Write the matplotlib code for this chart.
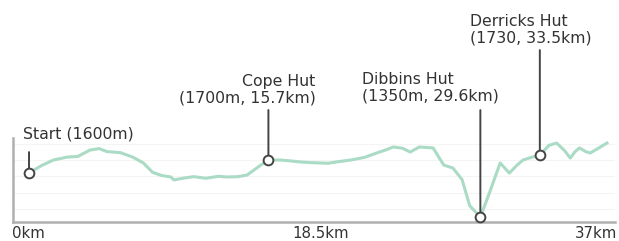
import matplotlib
matplotlib.use("Agg")
import matplotlib.pyplot as plt

# Elevation profile (km, m)
dist_km = [0.0, 0.8, 1.6, 2.5, 3.2, 4.0, 4.6, 5.1, 6.0, 6.8, 7.5, 8.1, 8.7, 9.3, 9.5,
           10.2, 10.8, 11.6, 12.4, 13.0, 13.7, 14.3, 15.2, 15.7, 16.5, 17.2, 17.8,
           18.5, 19.1, 19.6, 20.3, 21.1, 22.0, 22.8, 23.4, 23.9, 24.5, 25.0, 25.6,
           26.5, 27.2, 27.8, 28.4, 28.9, 29.6, 30.2, 30.9, 31.5, 32.0, 32.4, 33.0,
           33.5, 34.1, 34.6, 35.1, 35.5, 35.8, 36.1, 36.5, 36.8, 37.3, 37.9]
elev_m = [1620, 1665, 1700, 1718, 1722, 1761, 1770, 1752, 1745, 1718, 1682, 1625, 1605,
          1596, 1578, 1590, 1598, 1588, 1600, 1596, 1598, 1608, 1669, 1700, 1700, 1694,
          1688, 1684, 1682, 1680, 1690, 1700, 1716, 1743, 1762, 1780, 1772, 1749, 1780,
          1774, 1669, 1651, 1580, 1420, 1350, 1500, 1682, 1620, 1668, 1700, 1718,
          1730, 1790, 1804, 1760, 1712, 1750, 1774, 1752, 1743, 1770, 1804]

# Points of interest
poi_names = ["Start (1600m)", "Cope Hut\n(1700m, 15.7km)",
             "Dibbins Hut\n(1350m, 29.6km)", "Derricks Hut\n(1730, 33.5km)"]
poi_km = [0.0, 15.7, 29.6, 33.5]
poi_m = [1620, 1700, 1350, 1730]

tick_labels = ["0km", "18.5km", "37km"]

W, H = 619, 241
FS = 11.3
fig = plt.figure(figsize=(W / 100, H / 100), dpi=100)
ax = fig.add_axes([13 / W, 19 / H, (615 - 13) / W, (222 - 138) / H])
ax.set_xlim(-1.05, 38.43)
ax.set_ylim(1320, 1835)

for g in [1400, 1500, 1600, 1700, 1800]:
    ax.axhline(g, color="#f4f4f4", lw=0.8, zorder=0)

ax.plot(dist_km, elev_m, color="#aadbc5", lw=2.2, solid_joinstyle="round", zorder=2)

# annotation layout: (stem px, text dx px, text dy px, ha, multialign)
layout = [(21, -6, 32, "left", "left"),
          (50, 47, 55, "right", "right"),
          (107, -118, 114, "left", "left"),
          (105, -70, 110, "left", "left")]

for name, xk, ym, (stem, dx, dy, ha, ma) in zip(poi_names, poi_km, poi_m, layout):
    ax.annotate("", xy=(xk, ym), xytext=(0, stem), textcoords="offset pixels",
                arrowprops=dict(arrowstyle="-", color="#444444", lw=1.4,
                                shrinkA=0, shrinkB=0), annotation_clip=False, zorder=3)
    ax.plot([xk], [ym], marker="o", ms=7, mfc="white", mec="#444444", mew=1.4,
            clip_on=False, zorder=4)
    ax.annotate(name, xy=(xk, ym), xytext=(dx, dy), textcoords="offset pixels",
                ha=ha, va="bottom", multialignment=ma, fontsize=FS,
                color="#333333", linespacing=1.1, annotation_clip=False)

for s in ["top", "right"]:
    ax.spines[s].set_visible(False)
for s in ["left", "bottom"]:
    ax.spines[s].set_color("#b0b0b0")
    ax.spines[s].set_linewidth(1.8)
ax.set_xticks([])
ax.set_yticks([])

# tick labels along the bottom
TFS = 10.8
fig.text(12 / W, 1 - 241 / H, tick_labels[0], ha="left", va="bottom", fontsize=TFS, color="#333333")
fig.text(292 / W, 1 - 241 / H, tick_labels[1], ha="left", va="bottom", fontsize=TFS, color="#333333")
fig.text(617 / W, 1 - 241 / H, tick_labels[2], ha="right", va="bottom", fontsize=TFS, color="#333333")

fig.savefig("out.png", dpi=100)
